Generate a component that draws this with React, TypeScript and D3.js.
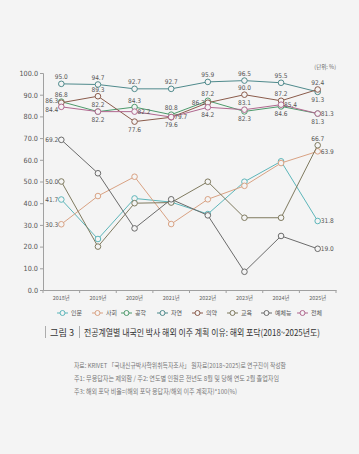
import React, { useRef, useEffect } from 'react';
import * as d3 from 'd3';

// values (%)
const years = ['2018년', '2019년', '2020년', '2021년', '2022년', '2023년', '2024년', '2025년'];
const yTicks = [0, 10, 20, 30, 40, 50, 60, 70, 80, 90, 100];
const seriesNames = ['인문', '사회', '공학', '자연', '의약', '교육', '예체능', '전체'];

const inmun = [41.7, 23.5, 42.2, 40.5, 35.0, 49.9, 59.3, 31.8];
const sahoe = [30.3, 43.3, 52.2, 30.4, 41.8, 48.0, 58.5, 63.9];
const gonghak = [86.8, 82.2, 84.3, 80.8, 87.2, 82.3, 84.6, 81.3];
const jayeon = [95.0, 94.7, 92.7, 92.7, 95.9, 96.5, 95.5, 91.3];
const uiyak = [86.3, 89.3, 77.6, 79.6, 86.3, 90.0, 87.2, 92.4];
const gyoyuk = [50.0, 20.0, 40.0, 40.3, 49.9, 33.3, 33.3, 66.7];
const yechein = [69.2, 53.8, 28.4, 41.8, 34.4, 8.4, 24.9, 19.0];
const jeonche = [84.4, 82.2, 82.2, 79.7, 84.2, 83.1, 85.4, 81.3];

const seriesValues = [inmun, sahoe, gonghak, jayeon, uiyak, gyoyuk, yechein, jeonche];
const colors = ['#5db6ba', '#d9a283', '#4e9a6c', '#4f8a8c', '#8a5b4b', '#7f7a5f', '#6b6b6b', '#b0688f'];

// where each value label goes: a = above, b = below, l = left, lu/ld = left nudged up/down, r = right, '' = none
const labelPos = [
  ['l', '', '', '', '', '', '', 'r'],
  ['l', '', '', '', '', '', '', 'r'],
  ['a', 'a', 'a', 'a', 'a', 'b', 'b', 'b'],
  ['a', 'a', 'a', 'a', 'a', 'a', 'a', 'b'],
  ['lu', 'a', 'b', 'b', 'l', 'a', 'a', 'a'],
  ['l', '', '', '', '', '', '', 'a'],
  ['l', '', '', '', '', '', '', 'r'],
  ['ld', 'b', 'r', 'r', 'b', 'a', 'r', 'r'],
];

const notes = [
  '자료: KRIVET 「국내신규박사학위취득자조사」 원자료(2018~2025)로 연구진이 작성함',
  '주1: 무응답자는 제외함 / 주2: 연도별 인원은 전년도 8월 및 당해 연도 2월 졸업자임',
  '주3: 해외 포닥 비율=(해외 포닥 응답자/해외 이주 계획자)*100(%)',
];
const noteWidths = [212, 205, 163];

const W = 359;
const H = 454;
const bg = '#f4f4f4';
const numFont = '"DejaVu Sans Condensed", "Liberation Sans Narrow", sans-serif';
const krFont = '"Noto Sans CJK KR", sans-serif';

export default function App() {
  const svgRef = useRef<SVGSVGElement>(null);

  useEffect(() => {
    const svg = d3.select(svgRef.current);
    svg.selectAll('*').remove();

    const x = d3.scaleBand().domain(years).range([43, 336]);
    const y = d3.scaleLinear().domain([0, 100]).range([290, 73]);
    const cx = (i: number) => (x(years[i]) as number) + x.bandwidth() / 2;

    svg.append('rect').attr('width', W).attr('height', H).attr('fill', bg);

    // y axis
    const yAxis = svg.append('g').attr('transform', 'translate(43,0)')
      .call(d3.axisLeft(y).tickValues(yTicks).tickFormat(d3.format('.1f')).tickSize(3).tickPadding(2));
    yAxis.selectAll('path,line').attr('stroke', '#a0a0a0');
    yAxis.selectAll('text').attr('font-family', numFont).attr('font-size', 7.2).attr('fill', '#555');

    // x axis (ticks on band edges)
    const xAxis = svg.append('g').attr('transform', 'translate(0,290)')
      .call(d3.axisBottom(x).tickSize(0).tickPadding(6));
    xAxis.select('path').attr('stroke', '#a0a0a0');
    xAxis.selectAll('text').attr('font-family', krFont).attr('font-size', 5.4).attr('fill', '#666');
    xAxis.selectAll('.edge').data(d3.range(years.length + 1)).join('line')
      .attr('x1', (i) => 43 + i * x.step()).attr('x2', (i) => 43 + i * x.step())
      .attr('y1', 0).attr('y2', 3).attr('stroke', '#a0a0a0');

    const line = d3.line<number>().x((_, i) => cx(i)).y((d) => y(d));

    seriesValues.forEach((vals, s) => {
      const g = svg.append('g');
      g.append('path').attr('d', line(vals)).attr('fill', 'none')
        .attr('stroke', colors[s]).attr('stroke-width', 1);
      g.selectAll('circle').data(vals).join('circle')
        .attr('cx', (_, i) => cx(i)).attr('cy', (d) => y(d)).attr('r', 2.8)
        .attr('fill', bg).attr('stroke', colors[s]).attr('stroke-width', 1);
    });

    // value labels on top
    seriesValues.forEach((vals, s) => {
      vals.forEach((v, i) => {
        const p = labelPos[s][i];
        if (!p) return;
        const px = cx(i);
        const py = y(v);
        const t = svg.append('text').text(v.toFixed(1))
          .attr('font-family', numFont).attr('font-size', 6.5).attr('fill', '#555');
        if (p === 'a') t.attr('x', px).attr('y', py - 4.5).attr('text-anchor', 'middle');
        if (p === 'b') t.attr('x', px).attr('y', py + 10).attr('text-anchor', 'middle');
        if (p === 'l') t.attr('x', px - 3).attr('y', py + 2.3).attr('text-anchor', 'end');
        if (p === 'lu') t.attr('x', px - 3).attr('y', py).attr('text-anchor', 'end');
        if (p === 'ld') t.attr('x', px - 3).attr('y', py + 5.6).attr('text-anchor', 'end');
        if (p === 'r') t.attr('x', px + 3).attr('y', py + 2.3).attr('text-anchor', 'start');
      });
    });

    svg.append('text').text('(단위: %)').attr('x', 336).attr('y', 69)
      .attr('text-anchor', 'end').attr('font-family', krFont).attr('font-size', 5.5).attr('fill', '#666');

    // legend
    const legendX = [57, 92, 121, 157, 192, 227, 261, 297];
    const lg = svg.append('g').attr('transform', 'translate(0,313)');
    seriesNames.forEach((n, s) => {
      const item = lg.append('g').attr('transform', `translate(${legendX[s]},0)`);
      item.append('line').attr('x1', 0).attr('x2', 11).attr('y1', 0).attr('y2', 0)
        .attr('stroke', colors[s]).attr('stroke-width', 1);
      item.append('circle').attr('cx', 5.5).attr('cy', 0).attr('r', 2.5)
        .attr('fill', bg).attr('stroke', colors[s]).attr('stroke-width', 1);
      item.append('text').text(n).attr('x', 14).attr('y', 2.3)
        .attr('font-family', krFont).attr('font-size', 6).attr('fill', '#555');
    });

    // figure caption
    const cap = svg.append('g').attr('font-family', krFont).attr('fill', '#333');
    cap.append('line').attr('x1', 45.5).attr('x2', 45.5).attr('y1', 326).attr('y2', 338)
      .attr('stroke', '#999').attr('stroke-width', 0.8);
    cap.append('text').text('그림 3').attr('x', 50).attr('y', 336)
      .attr('font-size', 9).attr('textLength', 24).attr('lengthAdjust', 'spacingAndGlyphs');
    cap.append('line').attr('x1', 79.5).attr('x2', 79.5).attr('y1', 326).attr('y2', 338)
      .attr('stroke', '#999').attr('stroke-width', 0.8);
    cap.append('text').text('전공계열별 내국인 박사 해외 이주 계획 이유: 해외 포닥(2018~2025년도)')
      .attr('x', 84).attr('y', 336).attr('font-size', 9.2)
      .attr('textLength', 236).attr('lengthAdjust', 'spacingAndGlyphs');

    notes.forEach((n, i) => {
      svg.append('text').text(n).attr('x', 74).attr('y', 368 + i * 13)
        .attr('font-family', krFont).attr('font-size', 6.6).attr('fill', '#777')
        .attr('textLength', noteWidths[i]).attr('lengthAdjust', 'spacingAndGlyphs');
    });
  }, []);

  return (
    <div style={{ position: 'absolute', left: 0, top: 0 }}>
      <svg ref={svgRef} width={W} height={H} style={{ display: 'block' }} />
    </div>
  );
}
